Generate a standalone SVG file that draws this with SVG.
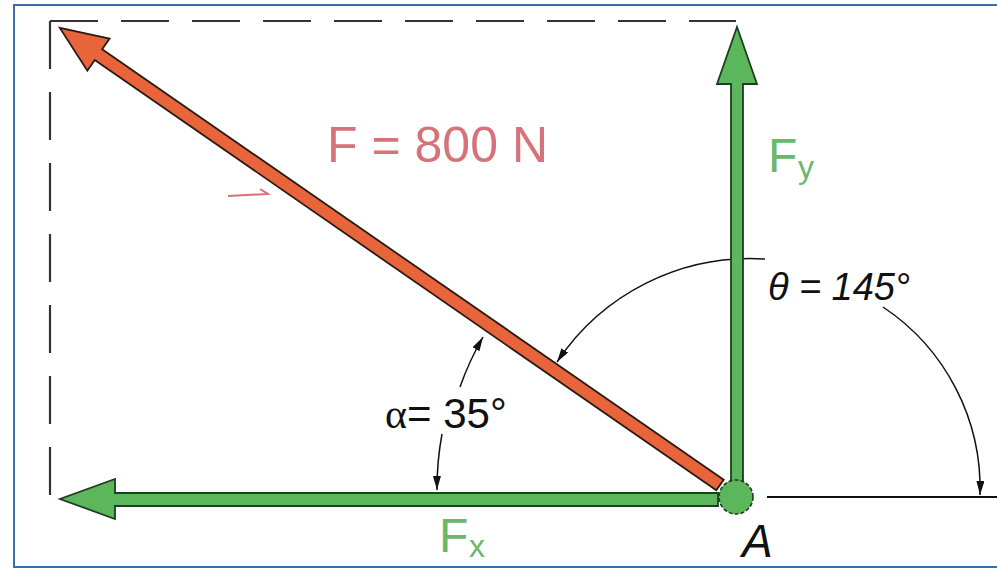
<svg xmlns="http://www.w3.org/2000/svg" width="997" height="570" viewBox="0 0 997 570">
<style>
.frame{fill:#fff;stroke:#3b6ea5;stroke-width:2}
.dash{fill:none;stroke:#333;stroke-width:2.2;stroke-dasharray:48 23}
.green{fill:#5cb65c;stroke:#1f3d1f;stroke-width:1.8;stroke-linejoin:miter}
.red{fill:#e8643a;stroke:#2a1a14;stroke-width:1.8}
.thin{fill:none;stroke:#111;stroke-width:1.5}
.gtxt{font-family:"Liberation Sans",Arial,sans-serif;fill:#6bb86b}
.btxt{font-family:"Liberation Sans",Arial,sans-serif;fill:#111}
</style>
<defs>
<marker id="arr" markerUnits="userSpaceOnUse" markerWidth="16" markerHeight="10" refX="14" refY="4" orient="auto">
<path d="M0,0 L14,4 L0,8 Z" fill="#111"/>
</marker>
</defs>
<rect class="frame" x="14" y="5" width="1000" height="562"/>
<g id="frame-dashed">
<path class="dash" d="M50,21 H736"/>
<path class="dash" d="M50,21 V497"/>
</g>
<g id="connectors">
<path id="theta-arc1" class="thin" d="M765,259 A232,232 0 0 0 557,362" marker-end="url(#arr)"/>
<path id="theta-arc2" class="thin" d="M883,307 A218,218 0 0 1 980,495" marker-end="url(#arr)"/>
<path id="alpha-arc1" class="thin" d="M460,387 A300,300 0 0 1 483,337" marker-end="url(#arr)"/>
<path id="alpha-arc2" class="thin" d="M442,434 A300,300 0 0 0 437,490" marker-end="url(#arr)"/>
<path id="x-axis" class="thin" d="M767,497 H997" style="stroke-width:2"/>
</g>
<g id="Fx">
<polygon class="green" points="718,493 115,493 115,479 60,499 115,519 115,506 718,506"/>
<text class="gtxt" x="439" y="552" font-size="48">F</text>
<text class="gtxt" x="469" y="557" font-size="32">x</text>
</g>
<g id="Fy">
<polygon class="green" points="731,482 731,84 717,84 737,27 757,84 743,84 743,482"/>
<text class="gtxt" x="768" y="172" font-size="48">F</text>
<text class="gtxt" x="798" y="178" font-size="32">y</text>
</g>
<g id="F">
<g transform="translate(720,485) rotate(-145.3)">
<polygon class="red" points="0,-6.5 756,-6.5 756,-19.5 803,0 756,19.5 756,6.5 0,6.5"/>
</g>
<text x="327" y="162" font-family="Liberation Sans,Arial,sans-serif" font-size="50" fill="#d6727a" textLength="221">F = 800 N</text>
<path d="M228,196 L268,194 L260,189" fill="none" stroke="#d6727a" stroke-width="2"/>
</g>
<g id="A">
<circle cx="736" cy="497" r="17" fill="#5cb65c" stroke="#1f3d1f" stroke-width="1.6" stroke-dasharray="4 2"/>
<text class="btxt" x="742" y="557" font-size="46" font-style="italic">A</text>
</g>
<g id="theta-label">
<text class="btxt" x="768" y="300" font-size="38" font-style="italic" textLength="142">θ = 145°</text>
</g>
<g id="alpha-label">
<text class="btxt" x="385" y="428" font-size="42"><tspan font-family="Liberation Serif,serif">α</tspan>= 35°</text>
</g>
</svg>
